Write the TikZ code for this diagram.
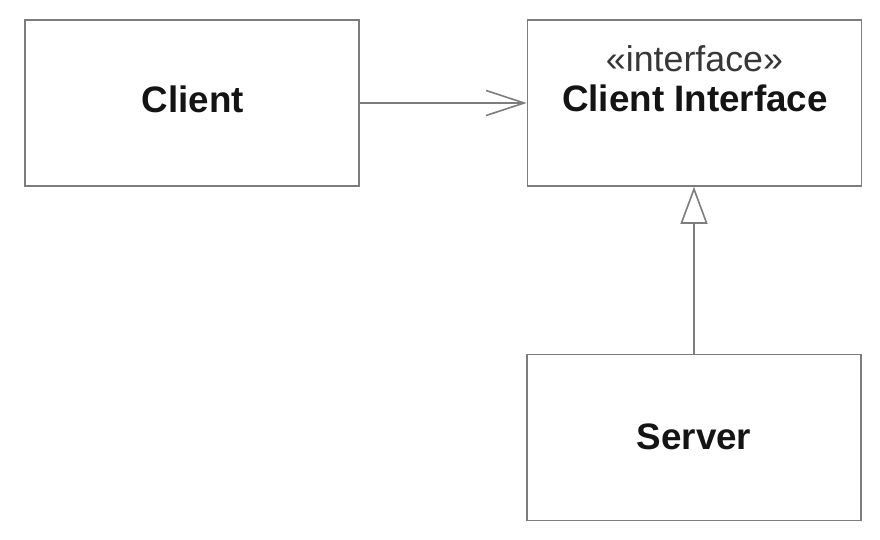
\documentclass[tikz,border=0pt]{standalone}
\usepackage{fontspec}
\setmainfont{Liberation Sans}
\usetikzlibrary{arrows.meta}
\definecolor{linegray}{RGB}{125,125,125}
\definecolor{txt}{RGB}{20,20,20}
\tikzset{
  classbox/.style={draw=linegray, line width=1.6pt, fill=white, minimum width=334pt, minimum height=166pt, inner sep=0pt},
  nametext/.style={anchor=base, text=txt, font=\fontsize{36.8}{40}\selectfont\bfseries, inner sep=0pt},
  stereotext/.style={anchor=base, text=txt!85!white, font=\fontsize{35.8}{40}\selectfont, inner sep=0pt},
  conn/.style={draw=linegray, line width=1.6pt}
}
\begin{document}
\begin{tikzpicture}[x=1pt,y=-1pt]
\useasboundingbox (0,0) rectangle (880,540);
\node[classbox] (client) at (192,103) {};
\node[classbox] (iface) at (694.5,103) {};
\node[classbox] (server) at (694,437.5) {};
\node[nametext] (clientname) at (193,113) {Client};
\node[stereotext] (stereo) at (694.5,72) {«interface»};
\node[nametext] (ifacename) at (695,112) {Client Interface};
\node[nametext] (servername) at (694,449) {Server};
\draw[conn, -{Straight Barb[length=38pt,width=25pt,line width=1.6pt]}] (client.east) -- (iface.west);
\draw[conn, -{Triangle[open,length=37pt,width=27pt,fill=white]}] (server.north) -- (server.north |- iface.south);
\end{tikzpicture}
\end{document}
